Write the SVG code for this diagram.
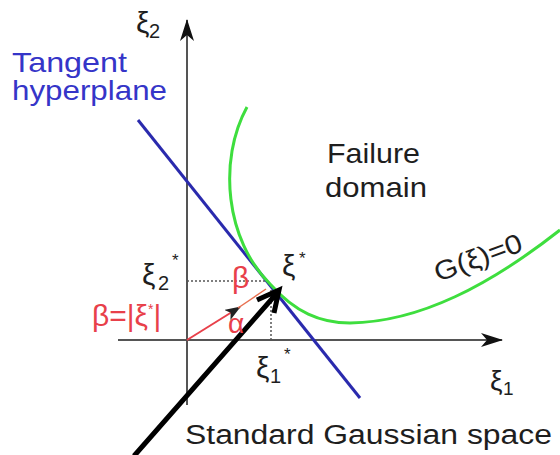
<svg xmlns="http://www.w3.org/2000/svg" width="560" height="455" viewBox="0 0 560 455">
<defs>
<style>
.lbl{font-family:"Liberation Sans",Arial,sans-serif;fill:#1e1e1e}
.blue{fill:#3535c8}
.red{fill:#e8404a}
.axis{stroke:#555;stroke-width:2;fill:none}
.dot{stroke:#555;stroke-width:1.5;stroke-dasharray:2,2;fill:none}
</style>
<marker id="axhead" viewBox="0 0 22 14" refX="21" refY="7" markerWidth="22" markerHeight="14" markerUnits="userSpaceOnUse" orient="auto">
<path d="M0,0 L22,7 L0,14 L6,7 z" fill="#111"/>
</marker>
<marker id="redhead" viewBox="0 0 16 12" refX="15" refY="6" markerWidth="16" markerHeight="12" markerUnits="userSpaceOnUse" orient="auto">
<path d="M0,0 L16,6 L0,12 L4,6 z" fill="#222"/>
</marker>
</defs>
<rect width="560" height="455" fill="#fff"/>

<g id="axes">
<line class="axis" x1="187" y1="405" x2="187" y2="20" marker-end="url(#axhead)"/>
<line class="axis" x1="118" y1="340" x2="502" y2="340" marker-end="url(#axhead)"/>
</g>

<g id="connectors">
<line class="dot" x1="187" y1="281" x2="268" y2="281"/>
<line class="dot" x1="271" y1="290" x2="271" y2="340"/>
<line x1="138" y1="120" x2="360" y2="398" stroke="#2a2aad" stroke-width="3"/>
<path d="M247,107 C218,160 225,240 271,285 C295,312 320,323 350,323 C420,322 490,285 560,230" fill="none" stroke="#3ede3e" stroke-width="3"/>
<line x1="187" y1="340" x2="240" y2="307" stroke="#e8404a" stroke-width="2" marker-end="url(#redhead)"/>
<line x1="238" y1="308" x2="266" y2="289" stroke="#e87050" stroke-width="1.5"/>
<path d="M134,456 L278,292 M257,300 L279,290 L274,313" fill="none" stroke="#000" stroke-width="5" stroke-linecap="butt" stroke-linejoin="miter"/>
</g>

<g id="tangent-label">
<text class="lbl blue" x="12" y="72" font-size="28" textLength="115" lengthAdjust="spacingAndGlyphs">Tangent</text>
<text class="lbl blue" x="12" y="100" font-size="28" textLength="155" lengthAdjust="spacingAndGlyphs">hyperplane</text>
</g>

<g id="failure-label">
<text class="lbl" x="327" y="163" font-size="28" textLength="93" lengthAdjust="spacingAndGlyphs">Failure</text>
<text class="lbl" x="325" y="197" font-size="28" textLength="102" lengthAdjust="spacingAndGlyphs">domain</text>
</g>

<g id="g-label">
<text class="lbl" font-size="27" textLength="92" lengthAdjust="spacingAndGlyphs" transform="translate(438,282) rotate(-20)">G(ξ)=0</text>
</g>

<g id="axis-labels">
<text class="lbl" x="136" y="33" font-size="30">ξ</text>
<text class="lbl" x="149" y="38" font-size="20">2</text>
<text class="lbl" x="490" y="390" font-size="28">ξ</text>
<text class="lbl" x="503" y="395" font-size="19">1</text>
</g>

<g id="point-labels">
<text class="lbl" x="282" y="276" font-size="30">ξ</text>
<text class="lbl" x="299" y="264" font-size="17">*</text>
<text class="lbl" x="142" y="285" font-size="30">ξ</text>
<text class="lbl" x="158" y="290" font-size="20">2</text>
<text class="lbl" x="172" y="266" font-size="17">*</text>
<text class="lbl" x="256" y="378" font-size="30">ξ</text>
<text class="lbl" x="270" y="383" font-size="20">1</text>
<text class="lbl" x="284" y="360" font-size="17">*</text>
</g>

<g id="beta-labels">
<text class="lbl red" x="232" y="288" font-size="30">β</text>
<text class="lbl red" x="92" y="326" font-size="30">β=|ξ<tspan font-size="14" dy="-12">*</tspan><tspan dy="12">|</tspan></text>
<text class="lbl red" x="228" y="333" font-size="28">α</text>
</g>

<g id="caption">
<text class="lbl" x="185" y="444" font-size="27" textLength="367" lengthAdjust="spacingAndGlyphs">Standard Gaussian space</text>
</g>
</svg>
